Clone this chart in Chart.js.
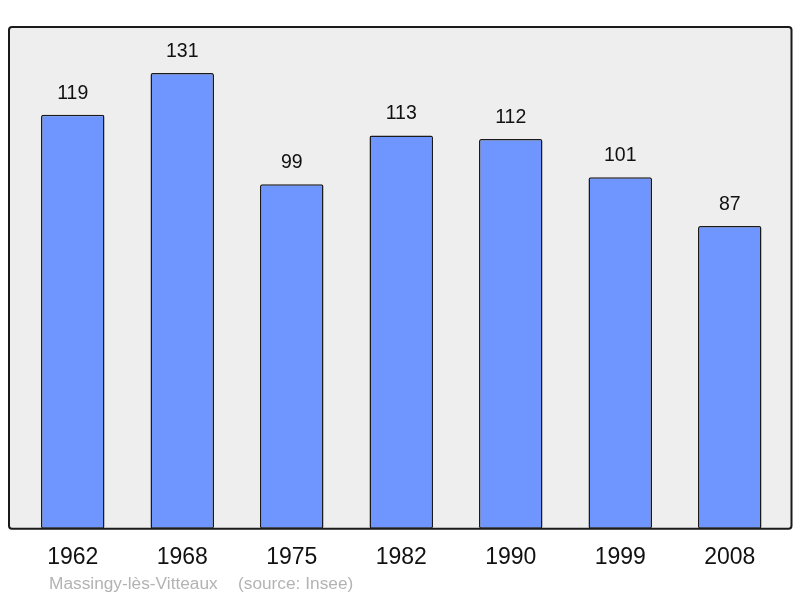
<!DOCTYPE html>
<html>
<head>
<meta charset="utf-8">
<script src="https://cdn.jsdelivr.net/npm/chart.js@4/dist/chart.umd.min.js"></script>
<style>
  html, body { margin: 0; padding: 0; background: #ffffff; }
  #wrap { width: 800px; height: 598px; }
</style>
</head>
<body>
<div id="wrap"><canvas id="popChart" width="800" height="598"></canvas></div>
<script>
const years = ["1962", "1968", "1975", "1982", "1990", "1999", "2008"];
const population = [119, 131, 99, 113, 112, 101, 87];
const placeName = "Massingy-lès-Vitteaux";
const sourceText = "(source: Insee)";

const frame = {
  id: "frame",
  beforeDatasetsDraw(chart) {
    const { ctx, chartArea } = chart;
    ctx.save();
    ctx.fillStyle = "#eeeeee";
    ctx.fillRect(chartArea.left - 9, chartArea.top, chartArea.right - chartArea.left + 16, chartArea.bottom - chartArea.top);
    ctx.restore();
  },
  afterDatasetsDraw(chart) {
    const { ctx, chartArea } = chart;
    ctx.save();
    ctx.strokeStyle = "#1a1a1a";
    ctx.lineWidth = 2;
    ctx.beginPath();
    ctx.roundRect(chartArea.left - 9, chartArea.top, chartArea.right - chartArea.left + 16, chartArea.bottom - chartArea.top, 3);
    ctx.stroke();

    // value labels above bars
    ctx.fillStyle = "#111111";
    ctx.font = "19.5px 'Liberation Sans', Arial, sans-serif";
    ctx.textAlign = "center";
    ctx.textBaseline = "middle";
    chart.getDatasetMeta(0).data.forEach((bar, i) => {
      ctx.fillText(population[i], bar.x, bar.y - 21.5);
    });

    // footer
    ctx.fillStyle = "#b3b3b3";
    ctx.font = "17.3px 'Liberation Sans', Arial, sans-serif";
    ctx.textAlign = "left";
    ctx.fillText(placeName, 49, 584);
    ctx.fillText(sourceText, 238, 584);
    ctx.restore();
  },
};

new Chart(document.getElementById("popChart"), {
  type: "bar",
  data: {
    labels: years,
    datasets: [
      {
        data: population,
        backgroundColor: "#6f96ff",
        borderColor: "#1a1a1a",
        borderWidth: 1.5,
        borderRadius: 2,
        borderSkipped: false,
        barPercentage: 0.58,
        categoryPercentage: 1,
      },
    ],
  },
  options: {
    responsive: false,
    animation: false,
    layout: {
      padding: { left: 18, right: 15.5, top: 27, bottom: 11.6 },
    },
    plugins: {
      legend: { display: false },
      tooltip: { enabled: false },
    },
    scales: {
      y: {
        display: false,
        min: 0,
        max: 144.2,
      },
      x: {
        grid: { display: false, drawTicks: false },
        border: { display: false },
        ticks: {
          color: "#111111",
          padding: 15,
          font: { size: 23, family: "'Liberation Sans', Arial, sans-serif" },
        },
      },
    },
  },
  plugins: [frame],
});
</script>
</body>
</html>
